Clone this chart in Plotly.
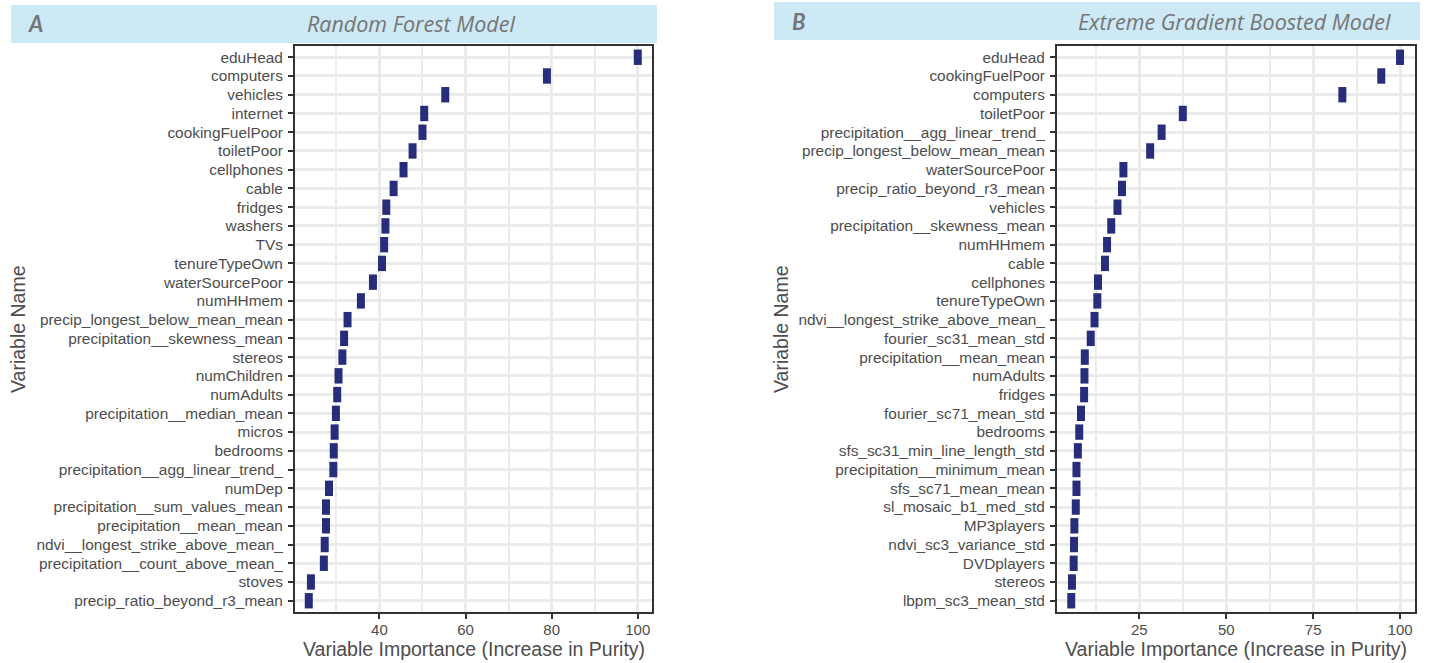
import plotly.graph_objects as go

W, H = 1430, 663

# ---------------- data ----------------
rf_vars = ["eduHead", "computers", "vehicles", "internet", "cookingFuelPoor", "toiletPoor",
           "cellphones", "cable", "fridges", "washers", "TVs", "tenureTypeOwn",
           "waterSourcePoor", "numHHmem", "precip_longest_below_mean_mean",
           "precipitation__skewness_mean", "stereos", "numChildren", "numAdults",
           "precipitation__median_mean", "micros", "bedrooms",
           "precipitation__agg_linear_trend_", "numDep", "precipitation__sum_values_mean",
           "precipitation__mean_mean", "ndvi__longest_strike_above_mean_",
           "precipitation__count_above_mean_", "stoves", "precip_ratio_beyond_r3_mean"]
rf_vals = [100.0, 78.9, 55.3, 50.4, 50.0, 47.7, 45.6, 43.3, 41.6, 41.4, 41.1, 40.6,
           38.5, 35.7, 32.6, 31.8, 31.4, 30.5, 30.2, 29.9, 29.6, 29.4, 29.3, 28.3,
           27.6, 27.6, 27.3, 27.1, 24.1, 23.6]

xgb_vars = ["eduHead", "cookingFuelPoor", "computers", "toiletPoor",
            "precipitation__agg_linear_trend_", "precip_longest_below_mean_mean",
            "waterSourcePoor", "precip_ratio_beyond_r3_mean", "vehicles",
            "precipitation__skewness_mean", "numHHmem", "cable", "cellphones",
            "tenureTypeOwn", "ndvi__longest_strike_above_mean_", "fourier_sc31_mean_std",
            "precipitation__mean_mean", "numAdults", "fridges", "fourier_sc71_mean_std",
            "bedrooms", "sfs_sc31_min_line_length_std", "precipitation__minimum_mean",
            "sfs_sc71_mean_mean", "sl_mosaic_b1_med_std", "MP3players",
            "ndvi_sc3_variance_std", "DVDplayers", "stereos", "lbpm_sc3_mean_std"]
xgb_vals = [100.0, 94.6, 83.4, 37.5, 31.4, 28.1, 20.4, 20.0, 18.7, 16.9, 15.7, 15.1,
            13.1, 12.9, 12.1, 11.0, 9.3, 9.2, 9.1, 8.2, 7.7, 7.3, 6.9, 6.9, 6.7, 6.3,
            6.2, 6.1, 5.6, 5.4]

panel_titles = ["Random Forest Model", "Extreme Gradient Boosted Model"]
panel_letters = ["A", "B"]
x_title = "Variable Importance (Increase in Purity)"
y_title = "Variable Name"

# ---------------- styling ----------------
MARK = "#272d7b"
GRID = "#ebebeb"
BORDER = "#333333"
TXT = "#4d4d4d"
STRIP = "#cde9f5"
HDR_TXT = "#757575"
YTICKFONT = dict(family="Liberation Sans, Arial, sans-serif", size=15.4, color=TXT)
XTICKFONT = dict(family="Liberation Sans, Arial, sans-serif", size=15, color=TXT)


def px(x):
    return x / W


def py(y):
    return 1 - y / H


fig = go.Figure()

panels = [
    dict(vars=rf_vars, vals=rf_vals, x0=295, x1=652, xr=[20.4, 103.3], dt=20, mdt=10, t0=0,
         sx0=11, sx1=657, sy0=5, sy1=43, letter_x=35, title_x=411, ytitle_x=18),
    dict(vars=xgb_vars, vals=xgb_vals, x0=1057, x1=1415, xr=[1.3, 104.3], dt=25, mdt=12.5, t0=0,
         sx0=774, sx1=1420, sy0=2, sy1=40, letter_x=799, title_x=1234, ytitle_x=781),
]

top, bottom = 46, 612
shapes, annots = [], []
for i, p in enumerate(panels):
    n = i + 1
    xa = "x" if n == 1 else f"x{n}"
    ya = "y" if n == 1 else f"y{n}"
    fig.add_trace(go.Scatter(
        x=p["vals"], y=p["vars"], mode="markers", xaxis=xa, yaxis=ya,
        marker=dict(symbol="line-ns", size=11, color=MARK,
                    line=dict(color=MARK, width=8)),
        showlegend=False, hoverinfo="x+y"))
    axis_x = dict(domain=[px(p["x0"]), px(p["x1"])], range=p["xr"], anchor=ya,
                  tick0=p["t0"], dtick=p["dt"], showgrid=True, gridcolor=GRID, gridwidth=2.5,
                  minor=dict(dtick=p["mdt"], tick0=p["t0"], showgrid=True, gridcolor=GRID,
                             gridwidth=1.5, ticks=""),
                  zeroline=False, showline=True, linecolor=BORDER, linewidth=2, mirror=True,
                  ticks="outside", ticklen=5, tickwidth=2, tickcolor=BORDER,
                  tickfont=XTICKFONT, ticklabelstandoff=-2, fixedrange=True)
    cats = list(reversed(p["vars"]))
    axis_y = dict(domain=[py(bottom), py(top)], anchor=xa, type="category",
                  categoryorder="array", categoryarray=cats, range=[-0.6, len(cats) - 0.4],
                  tickmode="linear", tick0=0, dtick=1,
                  showgrid=True, gridcolor=GRID, gridwidth=2.5, zeroline=False,
                  showline=True, linecolor=BORDER, linewidth=2, mirror=True,
                  ticks="outside", ticklen=5, tickwidth=2, tickcolor=BORDER,
                  tickfont=YTICKFONT, ticklabelstandoff=2, fixedrange=True)
    fig.update_layout({f"xaxis{'' if n == 1 else n}": axis_x,
                       f"yaxis{'' if n == 1 else n}": axis_y})

    shapes.append(dict(type="rect", xref="paper", yref="paper",
                       x0=px(p["sx0"]), x1=px(p["sx1"]), y0=py(p["sy1"]), y1=py(p["sy0"]),
                       fillcolor=STRIP, line=dict(width=0), layer="below"))
    yc = py((p["sy0"] + p["sy1"]) / 2)
    annots.append(dict(text=f"<b><i>{panel_letters[i]}</i></b>", x=px(p["letter_x"]), y=yc,
                       xref="paper", yref="paper", showarrow=False, xanchor="center",
                       yanchor="middle",
                       font=dict(family="Lato, sans-serif", size=22, color=HDR_TXT)))
    annots.append(dict(text=f"<i>{panel_titles[i]}</i>", x=px(p["title_x"]), y=yc,
                       xref="paper", yref="paper", showarrow=False, xanchor="center",
                       yanchor="middle",
                       font=dict(family="Open Sans, sans-serif", size=21.5, color=HDR_TXT)))
    annots.append(dict(text=x_title, x=px((p["x0"] + p["x1"]) / 2), y=py(649),
                       xref="paper", yref="paper", showarrow=False, xanchor="center",
                       yanchor="middle",
                       font=dict(family="Liberation Sans, Arial, sans-serif", size=19.5,
                                 color=TXT)))
    annots.append(dict(text=y_title, x=px(p["ytitle_x"]), y=py((top + bottom) / 2),
                       xref="paper", yref="paper", showarrow=False, xanchor="center",
                       yanchor="middle", textangle=-90,
                       font=dict(family="Liberation Sans, Arial, sans-serif", size=19.5,
                                 color=TXT)))

fig.update_layout(width=W, height=H, margin=dict(l=0, r=0, t=0, b=0),
                  paper_bgcolor="white", plot_bgcolor="white",
                  shapes=shapes, annotations=annots)

fig.write_html("out.html", config={"displayModeBar": False},
               post_script="document.body.style.margin='0px';"
                           "document.body.style.overflow='hidden';")
